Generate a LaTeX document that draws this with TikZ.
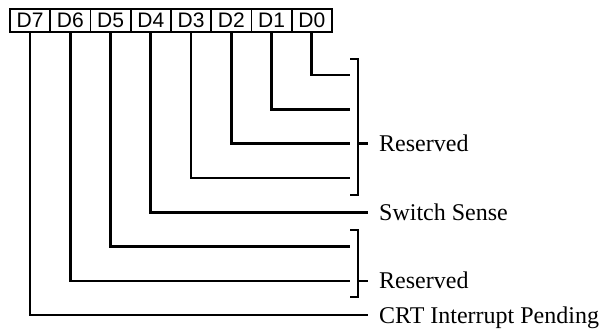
\documentclass[tikz,border=0pt]{standalone}
\usepackage{fontspec}
\setmainfont{Liberation Serif}
\newfontfamily\boxfont{Liberation Sans}
\begin{document}
\begin{tikzpicture}[x=1pt,y=-1pt,
  bitbox/.style={draw, line width=1.8pt, minimum width=40.25pt, minimum height=23pt,
    inner sep=0pt, anchor=north west, font=\boxfont\fontsize{21}{21}\selectfont},
  wire/.style={line width=2.6pt},
  lab/.style={anchor=base west, inner sep=0pt, font=\fontsize{24}{24}\selectfont}]
\useasboundingbox (0,0) rectangle (605,332);
% bit boxes
\node[bitbox] (d7) at (9,8) {D7};
\node[bitbox] (d6) at (49.25,8) {D6};
\node[bitbox] (d5) at (89.5,8) {D5};
\node[bitbox] (d4) at (129.75,8) {D4};
\node[bitbox] (d3) at (170,8) {D3};
\node[bitbox] (d2) at (210.25,8) {D2};
\node[bitbox] (d1) at (250.5,8) {D1};
\node[bitbox] (d0) at (290.75,8) {D0};
% labels
\node[lab] (res1) at (379,151.5) {Reserved};
\node[lab] (sw) at (379,220) {Switch Sense};
\node[lab] (res2) at (379,288.5) {Reserved};
\node[lab] (crt) at (379,323) {CRT Interrupt Pending};
% wire ends
\coordinate (e0) at (350,75);
\coordinate (e1) at (350,109.3);
\coordinate (e2) at (350,143.6);
\coordinate (e3) at (350,177.9);
\coordinate (e4) at (368,212.2);
\coordinate (e5) at (350,246.5);
\coordinate (e6) at (350,280.8);
\coordinate (e7) at (368,315.1);
% bracket ends
\coordinate (b1t) at (350,59);
\coordinate (b1b) at (350,195);
\coordinate (b1m) at (358,143.6);
\coordinate (b2t) at (350,230);
\coordinate (b2b) at (350,297);
\coordinate (b2m) at (358,280.8);
% wires
\draw[wire] (d0.south) |- (e0);
\draw[wire] (d1.south) |- (e1);
\draw[wire] (d2.south) |- (e2);
\draw[wire] (d3.south) |- (e3);
\draw[wire] (d4.south) |- (e4);
\draw[wire] (d5.south) |- (e5);
\draw[wire] (d6.south) |- (e6);
\draw[wire] (d7.south) |- (e7);
% brackets
\draw[wire] (b1t) -- ++(8,0) |- (b1b);
\draw[wire] (b1m) -- ++(10,0);
\draw[wire] (b2t) -- ++(8,0) |- (b2b);
\draw[wire] (b2m) -- ++(10,0);
\end{tikzpicture}
\end{document}
